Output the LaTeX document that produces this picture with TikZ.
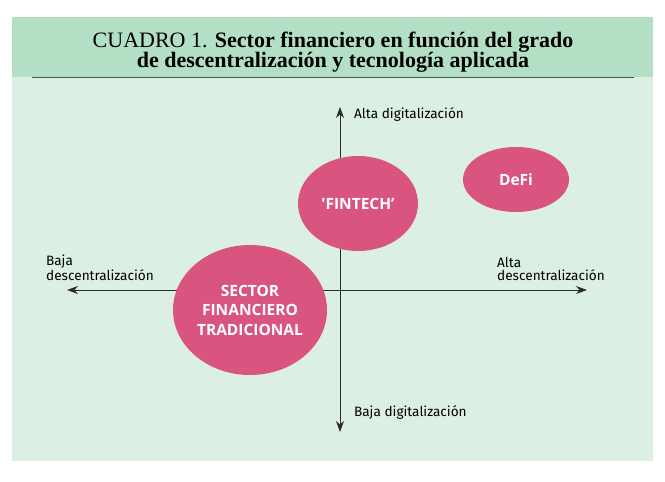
\documentclass[tikz,border=0pt]{standalone}
\usepackage{fontspec}
\setmainfont{Liberation Serif}
\newfontfamily\labfont{Fira Sans}
\newfontfamily\blobfont{Open Sans}
\usetikzlibrary{shapes.geometric,arrows.meta}
\definecolor{headgreen}{HTML}{B3DFC4}
\definecolor{bodygreen}{HTML}{DCEFE3}
\definecolor{pinkfill}{HTML}{D9557F}
\definecolor{rulegray}{HTML}{4A5A52}
\definecolor{axisgray}{HTML}{2B2B2B}
\tikzset{
  blob/.style={ellipse, fill=pinkfill, draw=none, inner sep=0pt, text=white,
    font=\blobfont\bfseries\fontsize{15.5}{19.5}\selectfont, align=center},
  axislabel/.style={font=\labfont\fontsize{13.6}{13.5}\selectfont, text=black, inner sep=0pt, align=left},
  axisline/.style={draw=axisgray, line width=0.9pt, -{Stealth[length=11pt,width=8pt]}},
  titletext/.style={font=\fontsize{22}{22}\selectfont, inner sep=0pt, anchor=base}
}
\begin{document}
\begin{tikzpicture}[x=1pt,y=-1pt]
\useasboundingbox (0,0) rectangle (665,482);
\fill[white] (0,0) rectangle (665,482);
\fill[bodygreen] (12,17) rectangle (653,461);
\fill[headgreen] (12,17) rectangle (653,77);
\draw[rulegray, line width=1.4pt] (32,77.5) -- (634,77.5);
\node[titletext] (t1) at (333,47) {CUADRO 1. \textbf{Sector financiero en función del grado}};
\node[titletext] (t2) at (333,67) {\textbf{de descentralización y tecnología aplicada}};
\coordinate (c) at (340,290);
\coordinate (left) at (67,290);
\coordinate (right) at (587,290);
\coordinate (top) at (340,107);
\coordinate (bottom) at (340,432);
\draw[axisline] (c) -- (left);
\draw[axisline] (c) -- (right);
\draw[axisline] (c) -- (top);
\draw[axisline] (c) -- (bottom);
\node[axislabel, anchor=west] (ad) at (354,114) {Alta digitalización};
\node[axislabel, anchor=west] (bd) at (354,412) {Baja digitalización};
\node[axislabel, anchor=south west] (bdc) at (46,281) {Baja\\descentralización};
\node[axislabel, anchor=south west] (adc) at (497,281) {Alta\\descentralización};
\node[blob, minimum width=120pt, minimum height=95pt] (fin) at (358,203.5) {\textquotesingle FINTECH’};
\node[blob, minimum width=106pt, minimum height=65pt] (defi) at (516,179.5) {DeFi};
\node[blob, minimum width=154pt, minimum height=130pt] (sft) at (250,310) {SECTOR\\FINANCIERO\\TRADICIONAL};
\end{tikzpicture}
\end{document}
